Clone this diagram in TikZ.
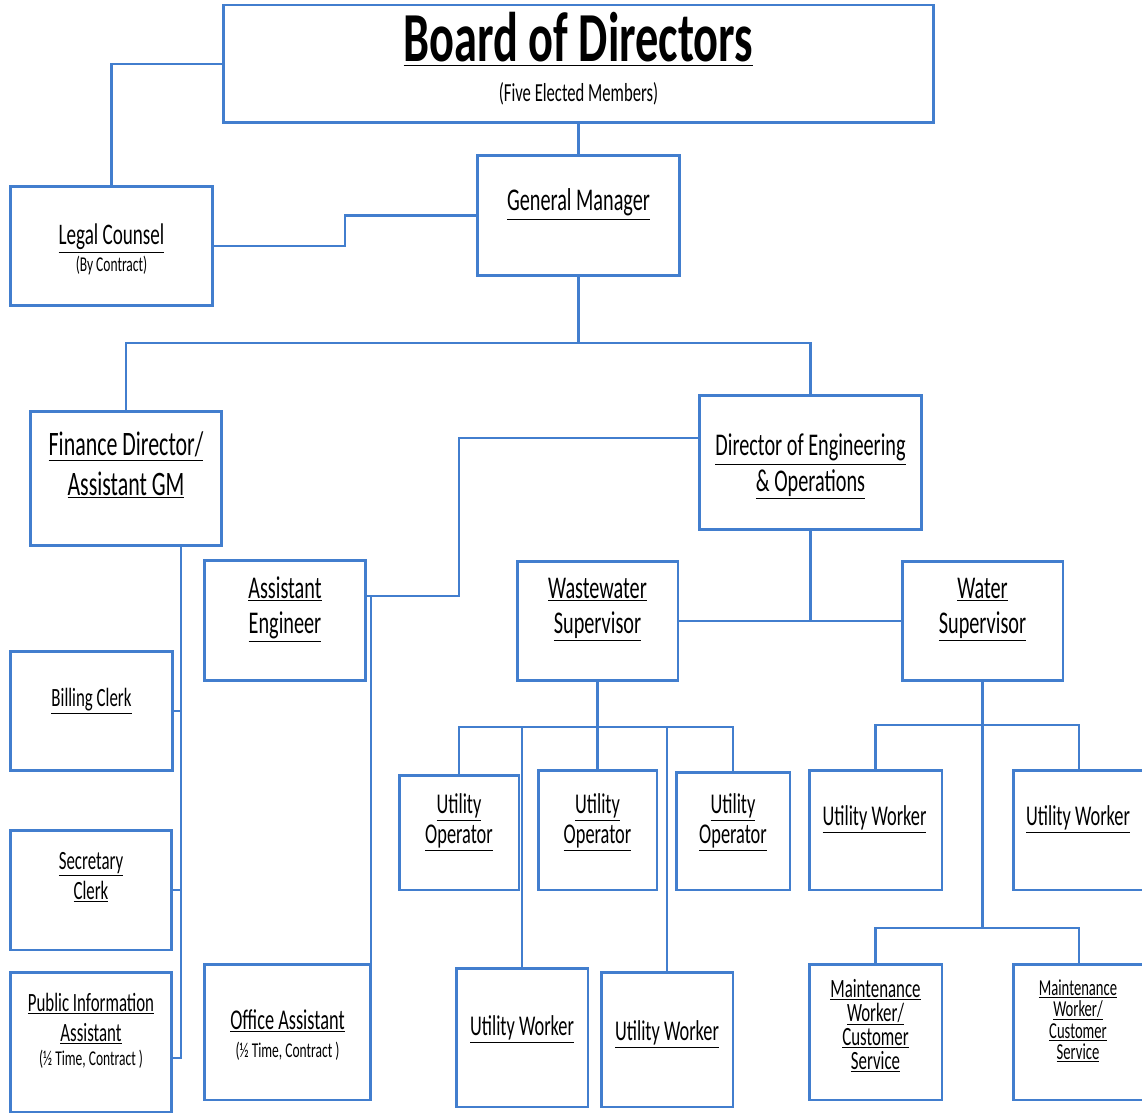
\documentclass[tikz,border=0pt]{standalone}
\usepackage{fontspec}
\setmainfont{Carlito}
\usepackage{graphicx}
\usetikzlibrary{positioning}
\usetikzlibrary{calc}

\definecolor{lineblue}{RGB}{66,126,206}
% narrow, underlined job titles
\newcommand{\tx}[1]{\scalebox{0.64}[1]{\underline{#1}}}
\newcommand{\nt}[1]{\scalebox{0.64}[1]{#1}}

\begin{document}
\begin{tikzpicture}[x=0.02cm, y=-0.02cm]
    % styles for the boxes, the connectors and the titles
    \tikzstyle{box} = [draw=lineblue, rectangle, line width=1.7pt, inner sep=0pt, outer sep=0pt, fill=white]
    \tikzstyle{link} = [draw=lineblue, line width=1.6pt]
    \tikzstyle{lbl} = [anchor=base, inner sep=0pt, text=black]
    \tikzstyle{sz40} = [lbl, font=\fontsize{40}{40}\selectfont\bfseries]
    \tikzstyle{sz19} = [lbl, font=\fontsize{19.5}{20}\selectfont]
    \tikzstyle{sz18} = [lbl, font=\fontsize{18}{20}\selectfont]
    \tikzstyle{sz16} = [lbl, font=\fontsize{16.3}{18}\selectfont]
    \tikzstyle{sz15} = [lbl, font=\fontsize{15}{16}\selectfont]
    \tikzstyle{sz13} = [lbl, font=\fontsize{13}{14}\selectfont]
    \tikzstyle{sz12} = [lbl, font=\fontsize{12}{13}\selectfont]

    \useasboundingbox (0,0) rectangle (1142,1114);

    % top of the chart
    \node[box, minimum width=14.22cm, minimum height=2.36cm] (bod) at (578.5,64) {};
    \node[box, minimum width=4.06cm, minimum height=2.42cm] (gm) at (578.5,215.5) {};
    \node[box, minimum width=4.06cm, minimum height=2.40cm] (legal) at (111.5,246) {};
    \node[box, minimum width=3.84cm, minimum height=2.70cm] (fin) at (126,478.5) {};
    \node[box, minimum width=4.46cm, minimum height=2.70cm] (deo) at (810.5,462.5) {};

    % second row
    \node[box, minimum width=3.24cm, minimum height=2.42cm] (asteng) at (285,620.5) {};
    \node[box, minimum width=3.22cm, minimum height=2.40cm] (wws) at (597.5,621) {};
    \node[box, minimum width=3.22cm, minimum height=2.40cm] (ws) at (982.5,621) {};

    % finance staff and office
    \node[box, minimum width=3.26cm, minimum height=2.40cm] (billing) at (91.5,711) {};
    \node[box, minimum width=3.24cm, minimum height=2.40cm] (secr) at (91,890) {};
    \node[box, minimum width=3.24cm, minimum height=2.80cm] (pia) at (91,1042) {};
    \node[box, minimum width=3.34cm, minimum height=2.72cm] (office) at (287.5,1032) {};

    % field staff using forloop
    \foreach \n/\x/\y/\w/\h in {uo1/459/832.5/2.40/2.30, uo2/597.5/830/2.38/2.40, uo3/733/831/2.28/2.36,
        uw1/522/1037.5/2.64/2.78, uw2/667/1039.5/2.64/2.70, uw3/875.5/830/2.66/2.40, uw4/1079/830/2.64/2.40,
        mw1/875.5/1032/2.66/2.72, mw2/1079/1032/2.64/2.72} {
        \node[box, minimum width=\w cm, minimum height=\h cm] (\n) at (\x,\y) {};
    }

    % bus lines
    \coordinate (gmbus) at (578.5,343);
    \coordinate (engturn) at (459,596);
    \coordinate (wwbus) at (597.5,727);
    \coordinate (wbus) at (982.5,725);
    \coordinate (mbus) at (982.5,928);
    \coordinate (spine) at ($(fin.south) + (55,0)$);

    % connectors between the boxes
    \draw[link] (bod.south) -- (gm.north);
    \draw[link] (bod.west) -| (legal.north);
    \draw[link] (legal.east) -| ($(legal.east)!0.5!(gm.west)$) |- (gm.west);
    \draw[link] (gm.south) -- (gmbus);
    \draw[link] (fin.north) |- (gmbus) -| (deo.north);
    \draw[link] ($(deo.north west) + (0,43)$) -| (engturn) -- (engturn -| asteng.east);
    \draw[link] (engturn -| office.east) -- (office.south east);
    \draw[link] (spine) |- ($(pia.east) + (0,16)$);
    \foreach \n in {billing, secr} {
        \draw[link] (\n.east) -- (\n.east -| spine);
    }
    \draw[link] (deo.south) -- (deo.south |- wws.east);
    \draw[link] (wws.east) -- (ws.west);
    \draw[link] (wws.south) -- (wwbus);
    \draw[link] (uo1.north) |- (wwbus) -| (uo3.north);
    \foreach \n in {uo2, uw1, uw2} {
        \draw[link] (\n.north) -- (\n.north |- wwbus);
    }
    \draw[link] (ws.south) -- (mbus);
    \draw[link] (uw3.north) |- (wbus) -| (uw4.north);
    \draw[link] (mw1.north) |- (mbus) -| (mw2.north);

    % titles in the boxes
    \node[sz40] (bod-t) at (578.5,62) {\scalebox{0.66}[1]{\underline{Board of Directors}}};
    \node[lbl, font=\fontsize{14.8}{15}\selectfont] (bod-s) at (578.5,102) {\nt{(Five Elected Members)}};
    \node[sz18] (gm-t) at (578.5,211) {\tx{General Manager}};
    \node[lbl, font=\fontsize{17}{18}\selectfont] (legal-t) at (111.5,245) {\tx{Legal Counsel}};
    \node[sz12] (legal-s) at (111.5,272) {\nt{(By Contract)}};
    \node[sz19] (fin-a) at (126,456) {\tx{Finance Director/}};
    \node[sz19] (fin-b) at (126,495) {\tx{Assistant GM}};
    \node[sz18] (deo-a) at (810.5,456) {\tx{Director of Engineering}};
    \node[sz18] (deo-b) at (810.5,491) {\tx{\& Operations}};
    \node[sz18] (asteng-a) at (285,598) {\tx{Assistant}};
    \node[sz18] (asteng-b) at (285,633) {\tx{Engineer}};
    \node[sz18] (wws-a) at (597.5,598) {\tx{Wastewater}};
    \node[sz18] (wws-b) at (597.5,633) {\tx{Supervisor}};
    \node[sz18] (ws-a) at (982.5,598) {\tx{Water}};
    \node[sz18] (ws-b) at (982.5,633) {\tx{Supervisor}};
    \node[sz15] (billing-t) at (91.5,706) {\tx{Billing Clerk}};
    \node[sz15] (secr-a) at (91,869) {\tx{Secretary}};
    \node[sz15] (secr-b) at (91,899) {\tx{Clerk}};
    \node[sz15] (pia-a) at (91,1011) {\tx{Public Information}};
    \node[sz15] (pia-b) at (91,1041) {\tx{Assistant}};
    \node[sz12] (pia-c) at (91,1065) {\nt{(½ Time, Contract )}};
    \node[sz16] (office-a) at (287.5,1029) {\tx{Office Assistant}};
    \node[sz12] (office-b) at (287.5,1057) {\nt{(½ Time, Contract )}};

    % repeated titles using forloop
    \coordinate (uoline) at (0,813);
    \foreach \n in {uo1, uo2, uo3} {
        \node[sz16] (\n-a) at (\n.north |- uoline) {\tx{Utility}};
        \node[sz16] (\n-b) at ($(\n-a.base) + (0,30)$) {\tx{Operator}};
    }
    \node[sz16] (uw1-t) at (522,1035) {\tx{Utility Worker}};
    \node[sz16] (uw2-t) at (667,1040) {\tx{Utility Worker}};
    \foreach \n in {uw3, uw4} {
        \node[sz16] (\n-t) at ($(\n.north) + (-1,55)$) {\tx{Utility Worker}};
    }
    \node[sz15] (mw1-a) at (875.5,997) {\tx{Maintenance}};
    \node[sz15] (mw1-b) at (875.5,1021) {\tx{Worker/}};
    \node[sz15] (mw1-c) at (875.5,1045) {\tx{Customer}};
    \node[sz15] (mw1-d) at (875.5,1069) {\tx{Service}};
    \node[sz13] (mw2-a) at (1078,995) {\tx{Maintenance}};
    \node[sz13] (mw2-b) at (1078,1016) {\tx{Worker/}};
    \node[sz13] (mw2-c) at (1078,1038) {\tx{Customer}};
    \node[sz13] (mw2-d) at (1078,1059) {\tx{Service}};

\end{tikzpicture}
\end{document}
